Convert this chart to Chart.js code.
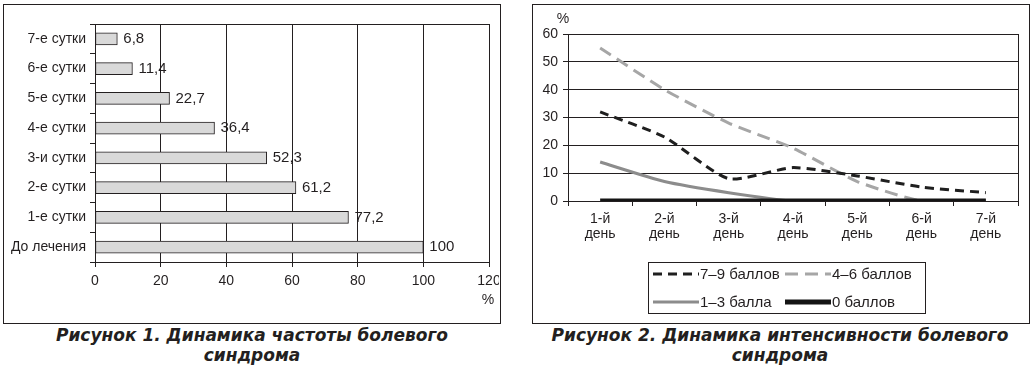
<!DOCTYPE html>
<html lang="ru">
<head>
<meta charset="utf-8">
<title>Динамика болевого синдрома</title>
<script src="https://cdn.jsdelivr.net/npm/chart.js@4.4.1/dist/chart.umd.min.js"></script>
<style>
  html, body { margin: 0; padding: 0; background: #fff; }
  body { width: 1032px; height: 375px; position: relative; overflow: hidden; color: #231f20;
         font-family: 'Liberation Sans', Arial, sans-serif; }
  .frame { position: absolute; border: 1px solid #231f20; box-sizing: border-box; }
  #frame1 { left: 3px; top: 4px; width: 498px; height: 320px; }
  #frame2 { left: 532px; top: 4px; width: 498px; height: 320px; }
  .box { position: absolute; width: 495px; height: 317px; }
  #box1 { left: 4px; top: 5px; }
  #box2 { left: 533px; top: 5px; }
  .unit { position: absolute; font-size: 14px; line-height: 14px; width: 20px; text-align: center; }
  .caption { position: absolute; width: 520px; text-align: center; line-height: 25px;
             font: italic bold 17px 'DejaVu Sans', sans-serif; }
</style>
</head>
<body>
<div class="frame" id="frame1"></div>
<div class="frame" id="frame2"></div>
<div class="box" id="box1"><canvas id="frequencyChart"></canvas></div>
<div class="box" id="box2"><canvas id="intensityChart"></canvas></div>
<div class="unit" style="left:478px; top:292px;">%</div>
<div class="unit" style="left:553px; top:11px;">%</div>
<div class="caption" style="left:-8px; top:325px;">Рисунок 1. Динамика частоты болевого<br>синдрома</div>
<div class="caption" style="left:520px; top:325px;">Рисунок 2. Динамика интенсивности болевого<br>синдрома</div>

<script>
// Рисунок 1 — частота болевого синдрома, %
const periodLabels = ['7-е сутки', '6-е сутки', '5-е сутки', '4-е сутки', '3-и сутки', '2-е сутки', '1-е сутки', 'До лечения'];
const frequencyValues = [6.8, 11.4, 22.7, 36.4, 52.3, 61.2, 77.2, 100];
const frequencyTicks = [0, 20, 40, 60, 80, 100, 120];

// Рисунок 2 — интенсивность болевого синдрома, %
const dayLabels = [['1-й', 'день'], ['2-й', 'день'], ['3-й', 'день'], ['4-й', 'день'], ['5-й', 'день'], ['6-й', 'день'], ['7-й', 'день']];
const seriesNames = ['7–9 баллов', '4–6 баллов', '1–3 балла', '0 баллов'];
const score7to9 = [32, 23, 8, 12, 9, 5, 3];
const score4to6 = [55, 40, 28, 19, 7, 0, 0];
const score1to3 = [14, 7, 3, 0, 0, 0, 0];
const score0 = [0, 0, 0, 0, 0, 0, 0];
const intensityTicks = [0, 10, 20, 30, 40, 50, 60];

Chart.defaults.font.family = "'Liberation Sans', Arial, sans-serif";
Chart.defaults.font.size = 14;
Chart.defaults.color = '#231f20';
Chart.defaults.animation = false;

const ink = '#231f20';

// Рамка области построения
const plotBorder = {
  id: 'plotBorder',
  beforeDatasetsDraw(chart) {
    const { ctx, chartArea: a } = chart;
    ctx.save();
    ctx.strokeStyle = ink;
    ctx.lineWidth = 1;
    ctx.strokeRect(a.left + 0.5, a.top + 0.5, a.right - a.left, a.bottom - a.top);
    ctx.restore();
  }
};

// Подписи значений справа от столбцов
const barValues = {
  id: 'barValues',
  afterDatasetsDraw(chart) {
    const { ctx } = chart;
    const meta = chart.getDatasetMeta(0);
    const data = chart.data.datasets[0].data;
    ctx.save();
    ctx.font = "15px 'Liberation Sans', Arial, sans-serif";
    ctx.fillStyle = ink;
    ctx.textBaseline = 'middle';
    meta.data.forEach((bar, i) => {
      ctx.fillText(String(data[i]).replace('.', ','), bar.x + 6, bar.y);
    });
    ctx.restore();
  }
};

// Легенда в рамке, два элемента в строке
const boxLegend = {
  id: 'boxLegend',
  afterDraw(chart) {
    const { ctx } = chart;
    const left = 115, top = 257, width = 277, height = 51;
    const colX = [5, 137], rowY = [12, 40], sample = 46;
    ctx.save();
    ctx.strokeStyle = ink;
    ctx.lineWidth = 1;
    ctx.strokeRect(left + 0.5, top + 0.5, width, height);
    ctx.font = "15px 'Liberation Sans', Arial, sans-serif";
    ctx.textBaseline = 'middle';
    ctx.fillStyle = ink;
    chart.data.datasets.forEach((ds, i) => {
      const x = left + colX[i % 2];
      const y = top + rowY[Math.floor(i / 2)];
      ctx.setLineDash(ds.borderDash || []);
      ctx.lineWidth = ds.borderWidth;
      ctx.strokeStyle = ds.borderColor;
      ctx.beginPath();
      ctx.moveTo(x, y);
      ctx.lineTo(x + sample, y);
      ctx.stroke();
      ctx.setLineDash([]);
      ctx.fillText(ds.label, x + sample + 1, y + 1);
    });
    ctx.restore();
  }
};

function initFrequencyChart() {
  const ctx = document.getElementById('frequencyChart').getContext('2d');
  new Chart(ctx, {
    type: 'bar',
    data: {
      labels: periodLabels,
      datasets: [{
        data: frequencyValues,
        backgroundColor: '#d9d9d9',
        borderColor: ink,
        borderWidth: 1,
        borderSkipped: false,
        barThickness: 12
      }]
    },
    options: {
      indexAxis: 'y',
      responsive: true,
      maintainAspectRatio: false,
      layout: { padding: { top: 19, right: 10, bottom: 32, left: 0 } },
      plugins: { legend: { display: false }, tooltip: { enabled: false } },
      scales: {
        x: {
          min: frequencyTicks[0],
          max: frequencyTicks[frequencyTicks.length - 1],
          ticks: { stepSize: frequencyTicks[1] - frequencyTicks[0], padding: 6 },
          grid: { color: ink, tickLength: 5 },
          border: { color: ink },
          afterFit: scale => {
            scale.height = 28;
            scale.paddingLeft = 0;
            scale.paddingRight = 0;
          }
        },
        y: {
          grid: { drawOnChartArea: false, color: ink, tickLength: 5 },
          border: { color: ink },
          ticks: { padding: 4 },
          afterFit: scale => { scale.width = 91; }
        }
      }
    },
    plugins: [plotBorder, barValues]
  });
}

function initIntensityChart() {
  const ctx = document.getElementById('intensityChart').getContext('2d');
  const series = [score7to9, score4to6, score1to3, score0];
  const styles = [
    { borderColor: '#1f1f1f', borderWidth: 3, borderDash: [9, 6], order: 1 },
    { borderColor: '#a6a6a6', borderWidth: 3, borderDash: [13, 7], order: 2 },
    { borderColor: '#8c8c8c', borderWidth: 3, borderDash: [], order: 3 },
    { borderColor: '#141414', borderWidth: 5, borderDash: [], order: 0 }
  ];
  new Chart(ctx, {
    type: 'line',
    data: {
      labels: dayLabels,
      datasets: series.map((data, i) => ({
        label: seriesNames[i],
        data: data,
        ...styles[i],
        pointRadius: 0,
        tension: 0.2,
        fill: false
      }))
    },
    options: {
      responsive: true,
      maintainAspectRatio: false,
      layout: { padding: { top: 29, right: 10, bottom: 76, left: 0 } },
      plugins: { legend: { display: false }, tooltip: { enabled: false } },
      scales: {
        x: {
          offset: true,
          grid: { offset: true, drawOnChartArea: false, color: ink, tickLength: 5 },
          border: { color: ink },
          ticks: { padding: 6, maxRotation: 0, font: { lineHeight: 1.07 } },
          afterFit: scale => {
            scale.height = 45;
            scale.paddingLeft = 0;
            scale.paddingRight = 0;
          }
        },
        y: {
          min: intensityTicks[0],
          max: intensityTicks[intensityTicks.length - 1],
          ticks: { stepSize: intensityTicks[1] - intensityTicks[0], padding: 5 },
          grid: { color: ink, tickLength: 5 },
          border: { color: ink },
          afterFit: scale => { scale.width = 35; }
        }
      }
    },
    plugins: [plotBorder, boxLegend]
  });
}

initFrequencyChart();
initIntensityChart();
</script>
</body>
</html>
